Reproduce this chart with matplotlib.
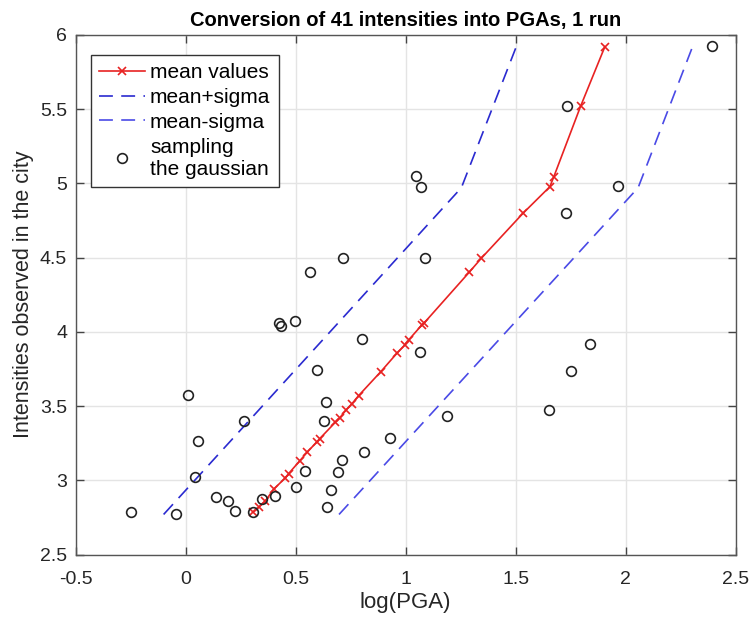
import matplotlib
matplotlib.use("Agg")
import matplotlib.pyplot as plt

plt.rcParams['font.family'] = ['Liberation Sans', 'DejaVu Sans']
plt.rcParams['lines.scale_dashes'] = False

# mean values (log PGA, intensity)
mean_x = [0.306, 0.333, 0.362, 0.400, 0.453, 0.468, 0.518, 0.553, 0.597, 0.609,
          0.680, 0.700, 0.730, 0.756, 0.786, 0.886, 0.961, 0.995, 1.014, 1.074,
          1.083, 1.288, 1.344, 1.533, 1.655, 1.673, 1.795, 1.905]
mean_y = [2.785, 2.820, 2.860, 2.940, 3.016, 3.045, 3.130, 3.190, 3.260, 3.280,
          3.390, 3.420, 3.475, 3.516, 3.570, 3.730, 3.857, 3.910, 3.946, 4.047,
          4.058, 4.400, 4.496, 4.798, 4.977, 5.044, 5.520, 5.920]

# mean +/- sigma (vertices of the polylines)
plus_x = [-0.10, 1.253, 1.505]
plus_y = [2.77, 4.97, 5.93]
minus_x = [0.697, 2.056, 2.306]
minus_y = [2.77, 4.97, 5.93]

# sampling the gaussian
samp_x = [-0.247, -0.045, 0.011, 0.056, 0.041, 0.139, 0.192, 0.223, 0.265, 0.306,
          0.347, 0.405, 0.424, 0.435, 0.495, 0.567, 0.715, 0.503, 0.541, 0.597,
          0.636, 0.629, 0.644, 0.659, 0.692, 0.712, 0.801, 0.810, 0.927, 1.066,
          1.089, 1.188, 1.650, 1.753, 1.839, 1.045, 1.071, 1.733, 1.727, 1.965,
          2.390]
samp_y = [2.787, 2.774, 3.576, 3.262, 3.020, 2.888, 2.860, 2.796, 3.397, 2.785,
          2.875, 2.892, 4.058, 4.036, 4.070, 4.400, 4.496, 2.953, 3.065, 3.740,
          3.525, 3.397, 2.820, 2.933, 3.056, 3.134, 3.953, 3.188, 3.285, 3.861,
          4.496, 3.435, 3.475, 3.733, 3.919, 5.051, 4.977, 5.520, 4.802, 4.984,
          5.925]

fig = plt.figure(figsize=(7.52, 6.21), dpi=100)
ax = fig.add_axes([0.1005, 0.107, 0.878, 0.837])

ax.plot(mean_x, mean_y, color='#e82222', lw=1.2, marker='x', ms=6, mew=1.2,
        label='mean values', zorder=3)
ax.plot(plus_x, plus_y, color='#2a2ad0', lw=1.2, dashes=(10, 6),
        label='mean+sigma', zorder=3)
ax.plot(minus_x, minus_y, color='#4a4ae6', lw=1.2, dashes=(10, 6),
        label='mean-sigma', zorder=3)
ax.plot(samp_x, samp_y, ls='none', marker='o', ms=7, mfc='none', mec='#222222',
        mew=1.2, label='sampling\nthe gaussian', zorder=4)

ax.set_xlim(-0.5, 2.5)
ax.set_ylim(2.5, 6)
ax.set_xticks([-0.5, 0, 0.5, 1, 1.5, 2, 2.5])
ax.set_xticklabels(['-0.5', '0', '0.5', '1', '1.5', '2', '2.5'])
ax.set_yticks([2.5, 3, 3.5, 4, 4.5, 5, 5.5, 6])
ax.set_yticklabels(['2.5', '3', '3.5', '4', '4.5', '5', '5.5', '6'])
ax.grid(True, color='#e4e4e4', lw=1)
ax.set_axisbelow(True)
ax.tick_params(direction='in', top=True, right=True, length=6, width=1,
               color='#444444', labelsize=14, labelcolor='#262626')
ax.tick_params(axis='x', pad=12)
ax.tick_params(axis='y', pad=6)
for s in ax.spines.values():
    s.set_color('#555555')
    s.set_linewidth(1)

ax.set_xlabel('log(PGA)', fontsize=16, color='#262626', labelpad=3)
ax.set_ylabel('Intensities observed in the city', fontsize=15.5, color='#262626', labelpad=4)
ax.set_title('Conversion of 41 intensities into PGAs, 1 run', fontsize=14.5,
             fontweight='bold', pad=6)

leg = ax.legend(loc='upper left', bbox_to_anchor=(0.0227, 0.9615), fontsize=15,
                frameon=True, fancybox=False, edgecolor='#333333', framealpha=1,
                handlelength=2.2, handletextpad=0.25, labelspacing=0.28,
                borderpad=0.4, borderaxespad=0)
leg.get_frame().set_linewidth(1)

fig.savefig('out.png', dpi=100)
